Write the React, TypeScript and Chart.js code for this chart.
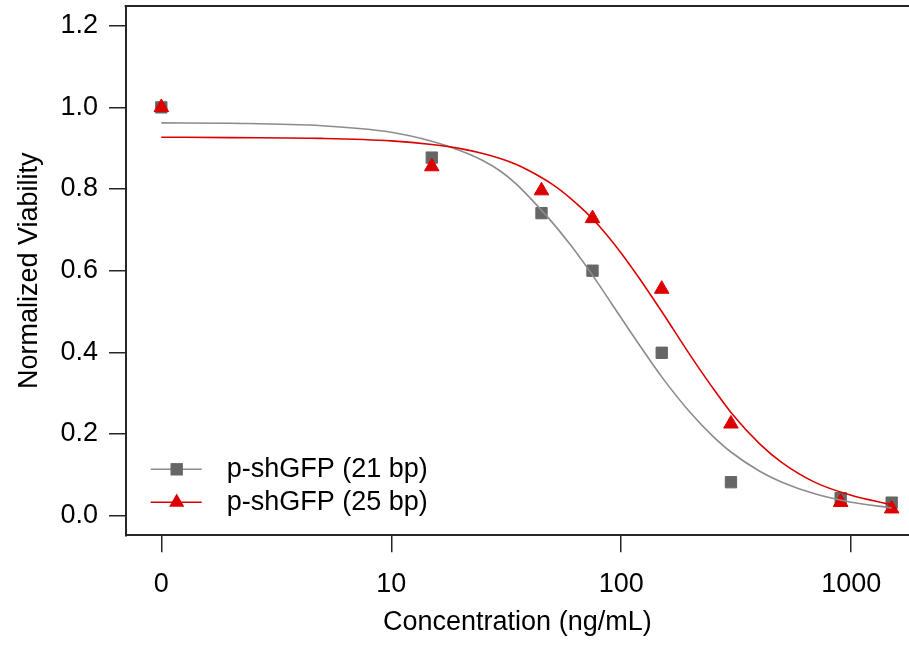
import React, { useEffect, useRef } from "react";
import { Chart, registerables } from "chart.js";

Chart.register(...registerables);

// drc convention: a dose of 0 is drawn one decade below the first labelled decade
const ZERO_DOSE_POSITION = 1;

const doses = [0, 15, 45, 75, 150, 300, 900, 1500];
const viability21 = [1.0, 0.877, 0.741, 0.6, 0.399, 0.082, 0.043, 0.032];
const viability25 = [1.0, 0.855, 0.796, 0.728, 0.555, 0.225, 0.033, 0.017];

const curveDoses = [1, 2, 5, 10, 15, 20, 25, 30, 35, 40, 50, 60, 70, 80, 100, 120, 150, 200, 250, 300, 400, 500, 700, 1000, 1500];
const fit21 = [0.962, 0.961, 0.955, 0.939, 0.917, 0.894, 0.87, 0.843, 0.812, 0.779, 0.719, 0.664, 0.613, 0.566, 0.484, 0.418, 0.34, 0.252, 0.195, 0.156, 0.109, 0.082, 0.053, 0.033, 0.019];
const fit25 = [0.927, 0.926, 0.924, 0.918, 0.909, 0.899, 0.887, 0.874, 0.86, 0.844, 0.812, 0.778, 0.744, 0.71, 0.643, 0.581, 0.5, 0.392, 0.313, 0.253, 0.176, 0.13, 0.081, 0.05, 0.027];

const xTicks = [0, 10, 100, 1000];
const yTicks = [0, 0.2, 0.4, 0.6, 0.8, 1.0, 1.2];
const seriesLabels = ["p-shGFP (21 bp)", "p-shGFP (25 bp)"];
const xTitle = "Concentration (ng/mL)";
const yTitle = "Normalized Viability";

const FONT = "'Liberation Sans', Arial, Helvetica, sans-serif";
const FONT_SIZE = 27;
const AXIS_COLOR = "#262626";
const GRAY_PT = "#666666";
const GRAY_LINE = "#8c8c8c";
const RED = "#dd0000";

const pos = (d: number) => (d === 0 ? ZERO_DOSE_POSITION : d);

const noPad = (s: any) => {
  s.paddingTop = 0;
  s.paddingBottom = 0;
  s.paddingLeft = 0;
  s.paddingRight = 0;
};

export default function App() {
  const ref = useRef<HTMLCanvasElement>(null);

  useEffect(() => {
    const canvas = ref.current;
    if (!canvas) return;

    const drawSquare = (ctx: CanvasRenderingContext2D, x: number, y: number, color: string) => {
      ctx.fillStyle = color;
      ctx.fillRect(x - 6.2, y - 6.2, 12.4, 12.4);
    };
    const drawTriangle = (ctx: CanvasRenderingContext2D, x: number, y: number, color: string) => {
      const r = 8.8;
      ctx.fillStyle = color;
      ctx.beginPath();
      ctx.moveTo(x, y - r);
      ctx.lineTo(x + r * Math.sin((2 * Math.PI) / 3), y - r * Math.cos((2 * Math.PI) / 3));
      ctx.lineTo(x + r * Math.sin((4 * Math.PI) / 3), y - r * Math.cos((4 * Math.PI) / 3));
      ctx.closePath();
      ctx.fill();
    };

    const innerLegend = {
      id: "innerLegend",
      afterDatasetsDraw(chart: any) {
        const { ctx, chartArea } = chart;
        const rows = [
          { y: chartArea.bottom - 66, line: GRAY_LINE, pt: GRAY_PT, shape: "square" },
          { y: chartArea.bottom - 33, line: RED, pt: RED, shape: "triangle" },
        ];
        ctx.save();
        rows.forEach((row, i) => {
          const x0 = chartArea.left + 25;
          ctx.strokeStyle = row.line;
          ctx.lineWidth = 1.5;
          ctx.beginPath();
          ctx.moveTo(x0, row.y);
          ctx.lineTo(x0 + 51, row.y);
          ctx.stroke();
          if (row.shape === "square") drawSquare(ctx, x0 + 26, row.y, row.pt);
          else drawTriangle(ctx, x0 + 26, row.y, row.pt);
          ctx.fillStyle = "#000";
          ctx.font = `${FONT_SIZE}px ${FONT}`;
          ctx.textBaseline = "middle";
          ctx.textAlign = "left";
          ctx.fillText(seriesLabels[i], x0 + 76, row.y);
        });
        ctx.restore();
      },
    };

    const topFrame = {
      id: "topFrame",
      afterDraw(chart: any) {
        const { ctx, chartArea } = chart;
        ctx.save();
        ctx.strokeStyle = AXIS_COLOR;
        ctx.lineWidth = 2;
        ctx.beginPath();
        ctx.moveTo(chartArea.left - 1, chartArea.top);
        ctx.lineTo(chartArea.right, chartArea.top);
        ctx.stroke();
        ctx.restore();
      },
    };

    const chart = new Chart(canvas, {
      type: "scatter",
      data: {
        datasets: [
          {
            label: seriesLabels[0] + " fit",
            data: curveDoses.map((d, i) => ({ x: pos(d), y: fit21[i] })),
            showLine: true,
            borderColor: GRAY_LINE,
            borderWidth: 1.6,
            pointRadius: 0,
            cubicInterpolationMode: "monotone",
            order: 2,
          },
          {
            label: seriesLabels[1] + " fit",
            data: curveDoses.map((d, i) => ({ x: pos(d), y: fit25[i] })),
            showLine: true,
            borderColor: RED,
            borderWidth: 1.6,
            pointRadius: 0,
            cubicInterpolationMode: "monotone",
            order: 1,
          },
          {
            label: seriesLabels[0],
            data: doses.map((d, i) => ({ x: pos(d), y: viability21[i] })),
            showLine: false,
            pointStyle: "rect",
            pointRadius: 8,
            pointBorderWidth: 1,
            backgroundColor: GRAY_PT,
            borderColor: GRAY_PT,
            order: 4,
          },
          {
            label: seriesLabels[1],
            data: doses.map((d, i) => ({ x: pos(d), y: viability25[i] })),
            showLine: false,
            pointStyle: "triangle",
            pointRadius: 8.4,
            pointBorderWidth: 1,
            backgroundColor: RED,
            borderColor: RED,
            order: 3,
          },
        ],
      } as any,
      options: {
        responsive: false,
        animation: false,
        events: [],
        layout: { autoPadding: false, padding: { top: 6.1, left: 0, right: 0, bottom: 0 } },
        plugins: {
          legend: { display: false },
          tooltip: { enabled: false },
        },
        scales: {
          x: {
            type: "logarithmic",
            position: "bottom",
            min: 0.745,
            max: 1784,
            afterFit: (s: any) => {
              s.height = 109.7;
              noPad(s);
            },
            afterBuildTicks: (s: any) => {
              s.ticks = xTicks.map((v) => ({ value: pos(v) }));
            },
            ticks: {
              autoSkip: false,
              maxRotation: 0,
              padding: 16,
              color: "#000",
              font: { family: FONT, size: FONT_SIZE },
              callback: (_v: any, i: number) => String(xTicks[i]),
            },
            grid: {
              drawOnChartArea: false,
              drawTicks: true,
              tickLength: 17,
              color: AXIS_COLOR,
              lineWidth: 1.5,
            },
            border: { display: true, color: AXIS_COLOR, width: 2 },
            title: {
              display: true,
              text: xTitle,
              color: "#000",
              font: { family: FONT, size: FONT_SIZE },
              padding: { top: 0, bottom: 6 },
            },
          },
          y: {
            type: "linear",
            position: "left",
            min: -0.048,
            max: 1.248,
            afterFit: (s: any) => {
              s.width = 125.7;
              noPad(s);
            },
            afterBuildTicks: (s: any) => {
              s.ticks = yTicks.map((v) => ({ value: v }));
            },
            ticks: {
              autoSkip: false,
              padding: 11,
              color: "#000",
              font: { family: FONT, size: FONT_SIZE },
              callback: (_v: any, i: number) => yTicks[i].toFixed(1),
            },
            grid: {
              drawOnChartArea: false,
              drawTicks: true,
              tickLength: 16.7,
              color: AXIS_COLOR,
              lineWidth: 1.5,
            },
            border: { display: true, color: AXIS_COLOR, width: 2 },
            title: {
              display: true,
              text: yTitle,
              color: "#000",
              font: { family: FONT, size: FONT_SIZE },
              padding: { top: 13, bottom: 0 },
            },
          },
        },
      } as any,
      plugins: [innerLegend, topFrame],
    });

    return () => chart.destroy();
  }, []);

  return (
    <div style={{ position: "fixed", left: 0, top: 0, width: 909, height: 645, background: "#fff" }}>
      <canvas ref={ref} width={909} height={645} style={{ display: "block" }} />
    </div>
  );
}
